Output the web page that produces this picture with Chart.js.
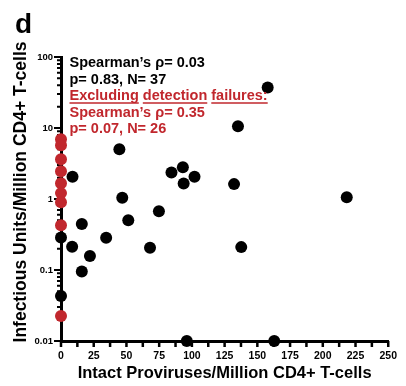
<!DOCTYPE html>
<html>
<head>
<meta charset="utf-8">
<script src="https://cdn.jsdelivr.net/npm/chart.js@4"></script>
<style>
  html, body { margin: 0; padding: 0; background: #fff; }
</style>
</head>
<body>
<canvas id="chart" width="406" height="386"></canvas>
<script>
// measured points (x: intact proviruses, y: IUPM)
const blackX = [157.9, 135.2, 44.6, 8.8, 84.4, 93.1, 102.0, 93.7, 132.2, 218.3, 46.8, 74.8,
  15.9, 51.4, 0, 34.5, 8.5, 68.0, 137.7, 22.1, 15.9, 0, 96.1, 162.9];
const blackY = [37.3, 10.6, 5.01, 2.05, 2.36, 2.80, 2.05, 1.65, 1.62, 1.06, 1.04, 0.674,
  0.446, 0.503, 0.286, 0.284, 0.212, 0.205, 0.210, 0.157, 0.0955, 0.043, 0.01, 0.01];

// detection failures, all at x = 0
const redX = [0, 0, 0, 0, 0, 0, 0, 0, 0];
const redY = [6.93, 5.71, 3.63, 2.46, 1.67, 1.21, 0.90, 0.428, 0.0225];

const xTickValues = [0, 25, 50, 75, 100, 125, 150, 175, 200, 225, 250];
const yTickValues = [0.01, 0.1, 1, 10, 100];
const yTickLabels = ['0.01', '0.1', '1', '10', '100'];

const statsAll = ['Spearman\u2019s \u03c1= 0.03', 'p= 0.83, N= 37'];
const statsExcluded = ['Excluding detection failures:', 'Spearman\u2019s \u03c1= 0.35', 'p= 0.07, N= 26'];

const xTitle = 'Intact Proviruses/Million CD4+ T-cells';
const yTitle = 'Infectious Units/Million CD4+ T-cells';
const panelLetter = 'd';

const RED = '#c1272d';
const FONT = "'Liberation Sans', Arial, sans-serif";

const toPoints = (xs, ys) => xs.map((x, i) => ({ x, y: ys[i] }));

// tick marks drawn by hand so minor/major can have different lengths
const axisMarks = {
  id: 'axisMarks',
  beforeDatasetsDraw(chart) {
    const { ctx, chartArea, scales: { x, y } } = chart;
    ctx.save();
    ctx.strokeStyle = '#000';
    ctx.lineWidth = 2;
    ctx.beginPath();
    for (let i = 0; i < yTickValues.length; i++) {
      const d = yTickValues[i];
      const py = y.getPixelForValue(d);
      ctx.moveTo(chartArea.left - 7, py);
      ctx.lineTo(chartArea.left, py);
      if (i === yTickValues.length - 1) break;
      for (let m = 2; m <= 9; m++) {
        const pm = y.getPixelForValue(m * d);
        ctx.moveTo(chartArea.left - 4, pm);
        ctx.lineTo(chartArea.left, pm);
      }
    }
    ctx.stroke();

    ctx.lineWidth = 2.5;
    ctx.beginPath();
    for (let i = 0; i < xTickValues.length; i++) {
      const px = x.getPixelForValue(xTickValues[i]);
      ctx.moveTo(px, chartArea.bottom);
      ctx.lineTo(px, chartArea.bottom + 6);
      if (i < xTickValues.length - 1) {
        const mid = x.getPixelForValue((xTickValues[i] + xTickValues[i + 1]) / 2);
        ctx.moveTo(mid, chartArea.bottom);
        ctx.lineTo(mid, chartArea.bottom + 6);
      }
    }
    ctx.stroke();
    ctx.restore();
  },
};

const annotations = {
  id: 'annotations',
  afterDraw(chart) {
    const { ctx, chartArea } = chart;
    ctx.save();

    ctx.fillStyle = '#000';
    ctx.font = `bold 28px ${FONT}`;
    ctx.textBaseline = 'alphabetic';
    ctx.fillText(panelLetter, 15, 33);

    ctx.font = `bold 16.5px ${FONT}`;
    ctx.textAlign = 'center';
    ctx.textBaseline = 'middle';
    ctx.fillText(xTitle, (chartArea.left + chartArea.right) / 2, 373);

    ctx.save();
    ctx.font = `bold 17.5px ${FONT}`;
    ctx.translate(21.5, 192);
    ctx.rotate(-Math.PI / 2);
    ctx.fillText(yTitle, 0, 0);
    ctx.restore();

    ctx.textAlign = 'left';
    ctx.font = `bold 14.5px ${FONT}`;
    const left = 69.5;
    let lineY = 63;
    statsAll.forEach((line) => {
      ctx.fillText(line, left, lineY);
      lineY += 16.5;
    });
    ctx.fillStyle = RED;
    ctx.strokeStyle = RED;
    ctx.lineWidth = 1.6;
    statsExcluded.forEach((line, i) => {
      ctx.fillText(line, left, lineY);
      if (i === 0) {
        // underline word by word
        let wx = left;
        const words = line.split(' ');
        words.forEach((word, k) => {
          const w = ctx.measureText(word).width;
          ctx.beginPath();
          ctx.moveTo(wx, lineY + 7);
          ctx.lineTo(wx + w, lineY + 7);
          ctx.stroke();
          wx += w + (k < words.length - 1 ? ctx.measureText(' ').width : 0);
        });
      }
      lineY += 16.5;
    });

    ctx.restore();
  },
};

new Chart(document.getElementById('chart'), {
  type: 'scatter',
  data: {
    datasets: [
      {
        label: 'Detection failures',
        data: toPoints(redX, redY),
        backgroundColor: RED,
        borderWidth: 0,
        pointRadius: 6,
        clip: false,
        order: 0,
      },
      {
        label: 'All participants',
        data: toPoints(blackX, blackY),
        backgroundColor: '#000',
        borderWidth: 0,
        pointRadius: 6,
        clip: false,
        order: 1,
      },
    ],
  },
  options: {
    responsive: false,
    animation: false,
    devicePixelRatio: 1,
    layout: { padding: { left: 0, top: 57, right: 14, bottom: 0 } },
    plugins: {
      legend: { display: false },
      tooltip: { enabled: false },
    },
    scales: {
      x: {
        type: 'linear',
        min: 0,
        max: 250,
        afterBuildTicks(scale) {
          scale.ticks = xTickValues.map((value) => ({ value }));
        },
        afterFit(scale) {
          scale.height = 45;
        },
        grid: { display: false, drawTicks: false },
        border: { display: true, color: '#000', width: 3 },
        ticks: {
          autoSkip: false,
          maxRotation: 0,
          padding: 9,
          color: '#000',
          font: { family: FONT, size: 10.5, weight: 'bold' },
          callback: (value) => String(value),
        },
      },
      y: {
        type: 'logarithmic',
        min: 0.01,
        max: 100,
        afterBuildTicks(scale) {
          scale.ticks = yTickValues.map((value) => ({ value }));
        },
        afterFit(scale) {
          scale.width = 61;
        },
        grid: { display: false, drawTicks: false },
        border: { display: true, color: '#000', width: 3 },
        ticks: {
          autoSkip: false,
          padding: 8,
          color: '#000',
          font: { family: FONT, size: 9.5, weight: 'bold' },
          callback: (value) => yTickLabels[yTickValues.indexOf(value)] ?? '',
        },
      },
    },
  },
  plugins: [axisMarks, annotations],
});
</script>
</body>
</html>
